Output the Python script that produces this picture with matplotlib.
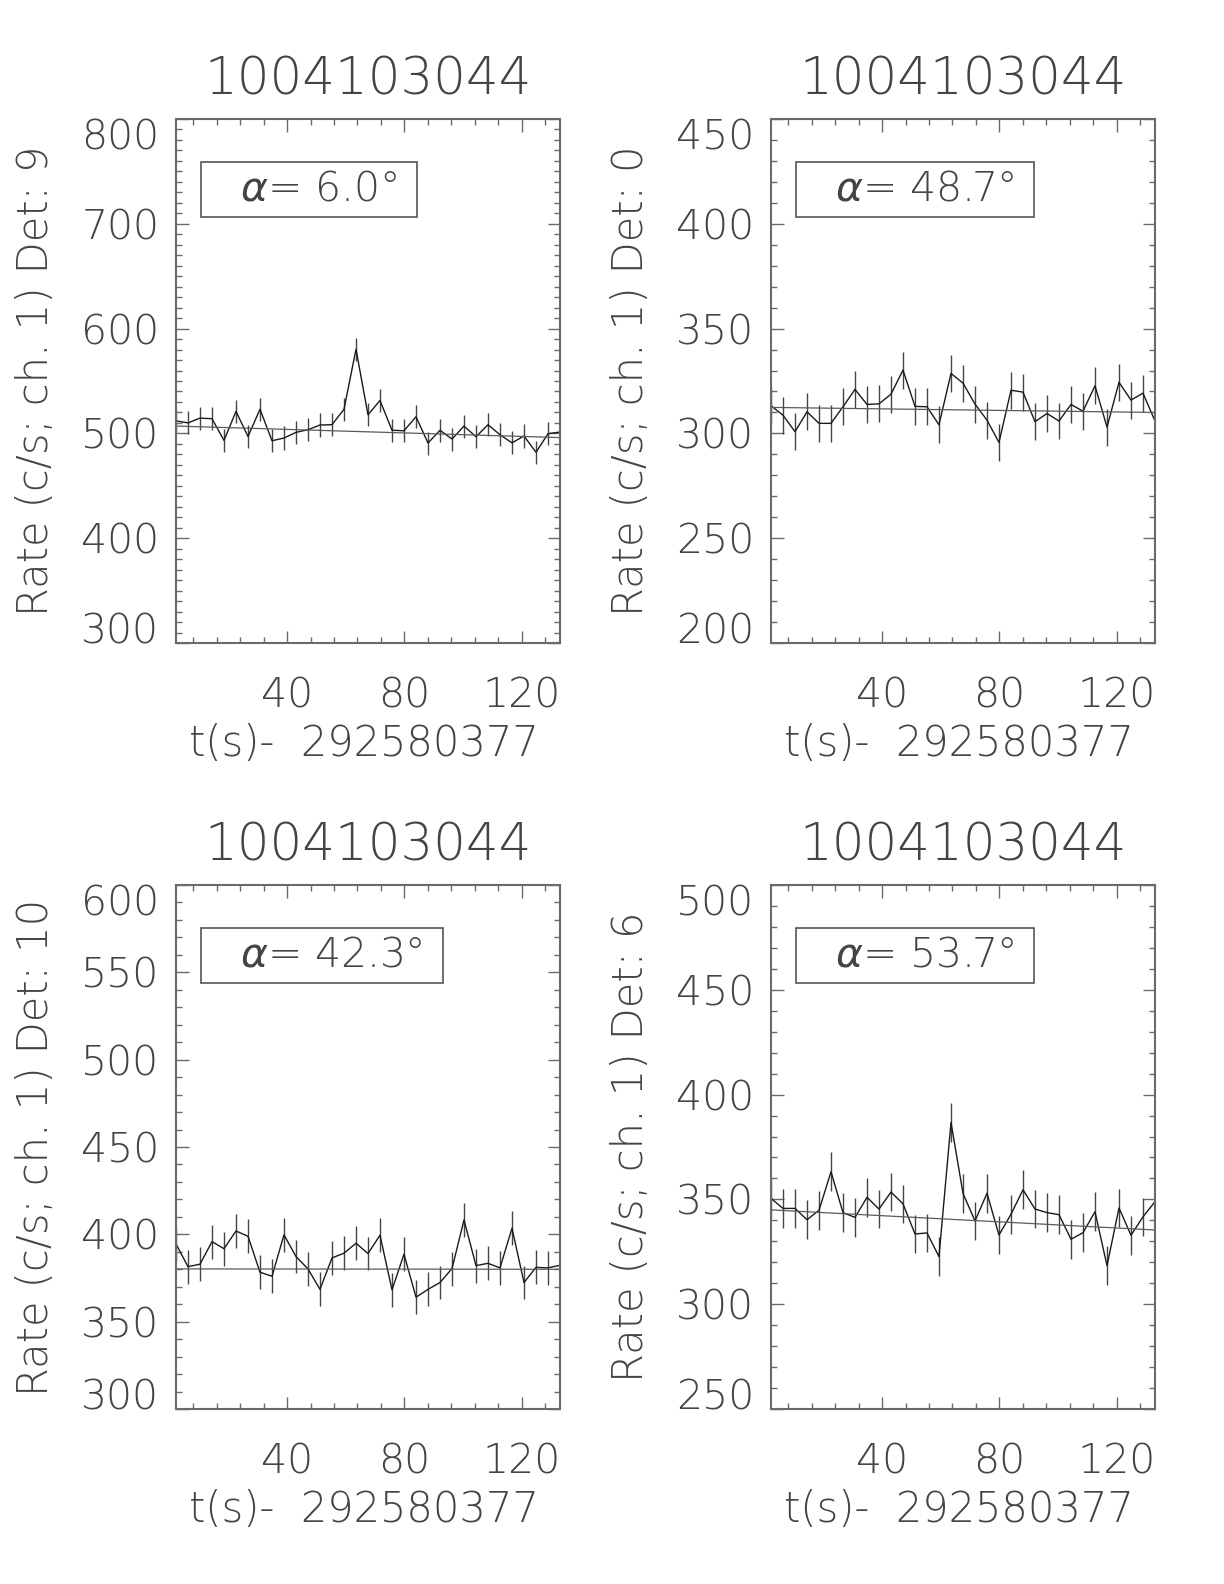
"""Four-detector light curves around a burst, IDL-style panels."""

import matplotlib
matplotlib.use("Agg")
import matplotlib.pyplot as plt
from matplotlib.patches import Rectangle
from matplotlib.ticker import MultipleLocator

plt.rcParams["mathtext.fontset"] = "custom"
plt.rcParams["mathtext.it"] = "DejaVu Sans:italic:light"
plt.rcParams["mathtext.rm"] = "DejaVu Sans:light"

TITLE = "1004103044"
XLABEL = "t(s)-  292580377"

# bin centres, seconds after 292580377
t_bins = [2.05, 6.14, 10.24, 14.34, 18.43, 22.53, 26.62, 30.72, 34.82, 38.91,
          43.01, 47.10, 51.20, 55.30, 59.39, 63.49, 67.58, 71.68, 75.78, 79.87,
          83.97, 88.06, 92.16, 96.26, 100.35, 104.45, 108.54, 112.64, 116.74,
          120.83, 124.93, 129.02, 133.12]

det9_rate = [512, 510, 514.6, 514, 493.3, 521, 497, 523, 493, 495.6, 501, 503.5,
             508, 508.3, 523, 580.3, 517.8, 531.4, 503, 502.5, 515.9, 490.8, 503,
             494.6, 507, 496.8, 508.3, 498.7, 491, 497.5, 482, 499.7, 501.3]
det0_rate = [313.2, 308.7, 300.8, 310.3, 304.8, 304.8, 312.7, 321, 313.8, 314.1,
             318.7, 330.2, 312.9, 312.7, 304.1, 328.6, 324, 314, 306.3, 295.7,
             320.6, 319.7, 305.6, 309.5, 305.9, 313.8, 310.6, 322.7, 303, 324.4,
             315.9, 319.2, 305.9]
det10_rate = [394.5, 381.5, 382.9, 395.8, 391.8, 401.9, 398.9, 378.3, 376, 399.7,
              387.3, 380.2, 368.5, 386.5, 389.2, 394.9, 389, 399.5, 368.2, 388.6,
              364, 368.5, 372.4, 380.4, 408.2, 382.1, 383.4, 380.8, 403.5, 372.4,
              381.1, 380.8, 382.3]
det6_rate = [350.5, 345.7, 345.7, 340.3, 344.8, 363.2, 343.7, 341.4, 351, 345.4,
             353.5, 347.9, 333.5, 334, 322.7, 386.7, 352.9, 339.7, 352.9, 333,
             342.9, 354.6, 345.4, 343.7, 342.7, 331, 334.1, 344.1, 318.4, 345.9,
             332.9, 341.7, 348.9]

# 1-sigma error per panel
errors = [11.0, 8.8, 9.7, 9.2]
# background fit, value at first and last bin
fit_ends = [[507, 496], [312.4, 310], [380.2, 380], [345, 335.4]]

detectors = ["9", "0", "10", "6"]
angles = ["6.0", "48.7", "42.3", "53.7"]
rates = [det9_rate, det0_rate, det10_rate, det6_rate]
y_ranges = [(300, 800), (200, 450), (300, 600), (250, 500)]
y_major = [100, 50, 50, 50]

FONT = {"family": "DejaVu Sans", "weight": 200}
TEXT_COLOR = "#444444"
AXIS_COLOR = "#6a6a6a"
TICK_SIZE = 29.5

fig = plt.figure(figsize=(12.24, 15.84), dpi=100)
W, H = 1224, 1584
# axes boxes in pixels: left, top
boxes = [(176, 119), (771, 119), (176, 885), (771, 885)]
ax_w, ax_h = 384, 524

axes = []
for i in range(4):
    left, top = boxes[i]
    ax = fig.add_axes([left / W, 1 - (top + ax_h) / H, ax_w / W, ax_h / H])
    axes.append(ax)
    t = t_bins
    r = rates[i]

    ax.errorbar(t, r, yerr=errors[i], fmt="none", ecolor="#444444",
                elinewidth=1.0, capsize=0)
    ax.plot(t, r, color="#1a1a1a", linewidth=1.0)
    ax.plot([t[0], t[-1]], fit_ends[i], color="#5a5a5a", linewidth=0.9)

    ax.set_xlim(t[0], t[-1])
    ax.set_ylim(*y_ranges[i])
    ax.xaxis.set_major_locator(MultipleLocator(40))
    ax.xaxis.set_minor_locator(MultipleLocator(8))
    ax.yaxis.set_major_locator(MultipleLocator(y_major[i]))
    ax.yaxis.set_minor_locator(MultipleLocator(10))
    ax.tick_params(which="both", direction="in", top=True, right=True,
                   color=AXIS_COLOR, width=1.0)
    ax.tick_params(which="major", length=9)
    ax.tick_params(which="minor", length=4)
    ax.tick_params(axis="x", which="major", pad=24, labelsize=TICK_SIZE,
                   labelcolor=TEXT_COLOR)
    ax.tick_params(axis="y", which="major", pad=12, labelsize=TICK_SIZE,
                   labelcolor=TEXT_COLOR)
    for lab in ax.get_xticklabels() + ax.get_yticklabels():
        lab.set_fontfamily(FONT["family"])
        lab.set_fontweight(FONT["weight"])
    for sp in ax.spines.values():
        sp.set_color(AXIS_COLOR)
        sp.set_linewidth(1.5)

    # end labels sit inside the axis range, as in the original plot
    ylo, yhi = y_ranges[i]
    locs = ax.yaxis.get_majorticklocs()
    for tick, loc in zip(ax.yaxis.get_major_ticks(len(locs)), locs):
        if abs(loc - ylo) < 1e-6:
            tick.label1.set_verticalalignment("baseline")
        elif abs(loc - yhi) < 1e-6:
            tick.label1.set_verticalalignment("top")

    ax.text(0.5, 1.074, TITLE, transform=ax.transAxes, ha="center",
            va="center", fontsize=37, color=TEXT_COLOR, **FONT)
    ax.text(0.49, -0.191, XLABEL, transform=ax.transAxes, ha="center",
            va="center", fontsize=30, color=TEXT_COLOR, **FONT)
    ax.text(-0.367, 0.5, f"Rate (c/s; ch. 1) Det: {detectors[i]}",
            transform=ax.transAxes, ha="center", va="center", rotation=90,
            fontsize=30, color=TEXT_COLOR, **FONT)

# alpha boxes: text first, then a frame sized around it
labels = []
for i, ax in enumerate(axes):
    txt = ax.text(0.167, 0.866, rf"$\alpha$= {angles[i]}°", transform=ax.transAxes,
                  ha="left", va="center", fontsize=29.5, color=TEXT_COLOR, **FONT)
    labels.append(txt)

fig.canvas.draw()
renderer = fig.canvas.get_renderer()
for ax, txt in zip(axes, labels):
    bb = txt.get_window_extent(renderer).transformed(ax.transAxes.inverted())
    x0 = bb.x0 - 39 / ax_w
    x1 = bb.x1 + 20 / ax_w
    y0, y1 = 0.813, 0.918
    ax.add_patch(Rectangle((x0, y0), x1 - x0, y1 - y0, transform=ax.transAxes,
                           fill=False, edgecolor="#555555", linewidth=1.2))

fig.savefig("out.png", dpi=100, facecolor="white")
